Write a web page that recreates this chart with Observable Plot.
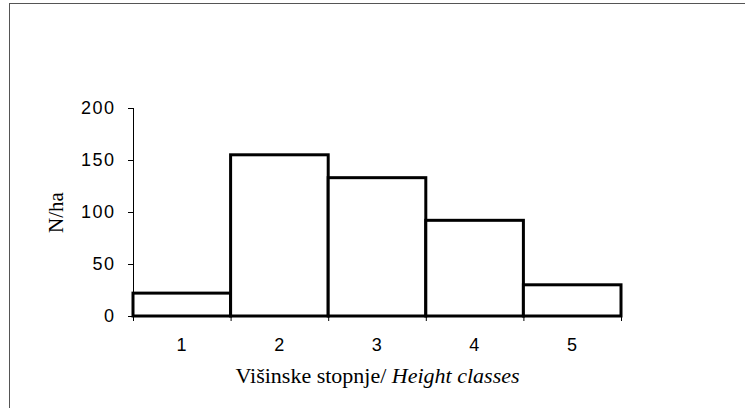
<!DOCTYPE html>
<html>
<head>
<meta charset="utf-8">
<script src="https://cdn.jsdelivr.net/npm/d3@7"></script>
<script src="https://cdn.jsdelivr.net/npm/@observablehq/plot@0.6"></script>
<style>
  html, body { margin: 0; padding: 0; background: #fff; }
  #wrap { position: relative; width: 745px; height: 408px; overflow: hidden; }
  #frame { position: absolute; left: 9px; top: 3px; width: 760px; height: 420px;
           border-left: 1px solid #555; border-top: 1px solid #555; pointer-events: none; }
</style>
</head>
<body>
<div id="wrap"><div id="frame"></div><div id="chart"></div></div>
<script>
const categories = ["1", "2", "3", "4", "5"];
const values = [22, 155, 133, 92, 30];
const yTicks = [0, 50, 100, 150, 200];
const yLabel = "N/ha";
const xLabelPlain = "Višinske stopnje/ ";
const xLabelItalic = "Height classes";

const data = categories.map((c, i) => ({cls: +c, n: values[i]}));
const nums = categories.map(Number);
const boundaries = nums.map(v => v - 0.5).concat([nums[nums.length - 1] + 0.5]);

const chart = Plot.plot({
  width: 745,
  height: 408,
  marginLeft: 133,
  marginRight: 124,
  marginTop: 108,
  marginBottom: 92,
  x: {domain: [boundaries[0], boundaries[boundaries.length - 1]]},
  y: {domain: [yTicks[0], yTicks[yTicks.length - 1]]},
  style: {fontFamily: "'Liberation Sans', Arial, sans-serif", fontSize: "18px", color: "black", background: "transparent"},
  marks: [
    Plot.rectY(data, {x1: d => d.cls - 0.5, x2: d => d.cls + 0.5, y: "n", fill: "white", stroke: "black", strokeWidth: 3}),
    Plot.ruleY([yTicks[0]], {stroke: "black", strokeWidth: 1}),
    Plot.ruleX([boundaries[0]], {stroke: "black", strokeWidth: 1}),
    Plot.axisY({ticks: yTicks, tickSize: 5, tickPadding: 13, label: null, strokeWidth: 1}),
    Plot.axisX({ticks: boundaries, tickSize: 5, tickFormat: () => "", label: null, strokeWidth: 1}),
    Plot.axisX({ticks: nums, tickSize: 0, tickPadding: 22, label: null,
      tickFormat: v => categories[nums.indexOf(v)]}),
    Plot.text([yLabel], {frameAnchor: "left", rotate: -90, dx: -77, textAnchor: "middle",
      fontFamily: "'Liberation Serif', 'Times New Roman', serif", fontSize: 21}),
    Plot.text([xLabelPlain + xLabelItalic], {frameAnchor: "bottom", dy: 66, textAnchor: "middle",
      fontFamily: "'Liberation Serif', 'Times New Roman', serif", fontSize: 22})
  ]
});

document.getElementById("chart").appendChild(chart);

// wider digit spacing, as in the scanned original
chart.querySelectorAll('[aria-label="y-axis tick label"] text, [aria-label="x-axis tick label"] text')
  .forEach(t => { t.setAttribute("letter-spacing", "1.5"); t.setAttribute("font-weight", "500"); });

// split the x label into roman + italic parts
chart.querySelectorAll('g[aria-label="text"] text').forEach(t => {
  if (t.textContent === xLabelPlain + xLabelItalic) {
    t.textContent = "";
    const a = document.createElementNS("http://www.w3.org/2000/svg", "tspan");
    a.textContent = xLabelPlain;
    const b = document.createElementNS("http://www.w3.org/2000/svg", "tspan");
    b.textContent = xLabelItalic;
    b.setAttribute("font-style", "italic");
    t.appendChild(a);
    t.appendChild(b);
  }
});
</script>
</body>
</html>
